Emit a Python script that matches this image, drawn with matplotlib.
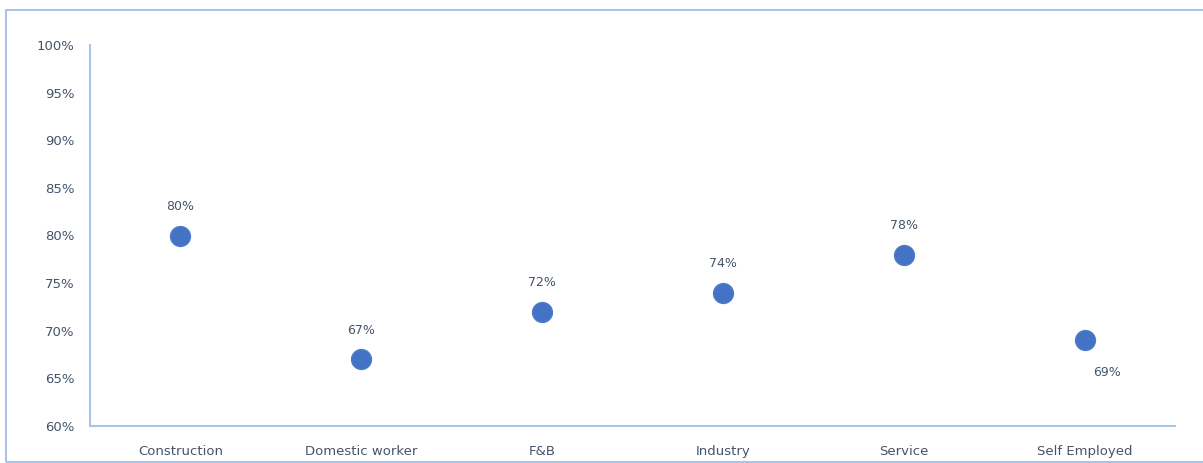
import matplotlib.pyplot as plt
from matplotlib.patches import Rectangle

categories = ["Construction", "Domestic worker", "F&B", "Industry", "Service", "Self Employed"]
shares = [80, 67, 72, 74, 78, 69]
yticks = [60, 65, 70, 75, 80, 85, 90, 95, 100]

W, H = 1203, 463
fig = plt.figure(figsize=(W / 100, H / 100), dpi=100)
plt.rcParams['font.family'] = ['DejaVu Sans']
txt = "#44546A"

# outer chart border
fig.patches.append(Rectangle((6 / W, 1 - 462 / H), 1.2, (462 - 10) / H,
                             transform=fig.transFigure, fill=False,
                             edgecolor="#A9C4E6", linewidth=1.5))

ax = fig.add_axes([90 / W, 1 - 426 / H, (1175 - 90) / W, (426 - 45) / H])
x = range(len(categories))
ax.scatter(x, shares, s=205, color="#4472C4", edgecolors="#4F7CC8", zorder=3)

for i, v in enumerate(shares):
    if categories[i] == "Self Employed":
        off = (16, -23)
    else:
        off = (0, 21)
    ax.annotate(f"{v}%", (i, v), xytext=off, textcoords="offset points",
                ha="center", va="center", fontsize=9, color=txt)

ax.set_xlim(-0.5, len(categories) - 0.5)
ax.set_ylim(60, 100)
ax.set_yticks(yticks)
ax.set_yticklabels([f"{t}%" for t in yticks])
ax.set_xticks(list(x))
ax.set_xticklabels(categories)
ax.tick_params(axis="both", length=0, labelsize=9.5, labelcolor=txt)
ax.tick_params(axis="y", pad=11)
ax.tick_params(axis="x", pad=14)
for side in ["top", "right"]:
    ax.spines[side].set_visible(False)
for side in ["left", "bottom"]:
    ax.spines[side].set_color("#A9C4E6")
    ax.spines[side].set_linewidth(1.5)

fig.savefig("out.png", dpi=100)
